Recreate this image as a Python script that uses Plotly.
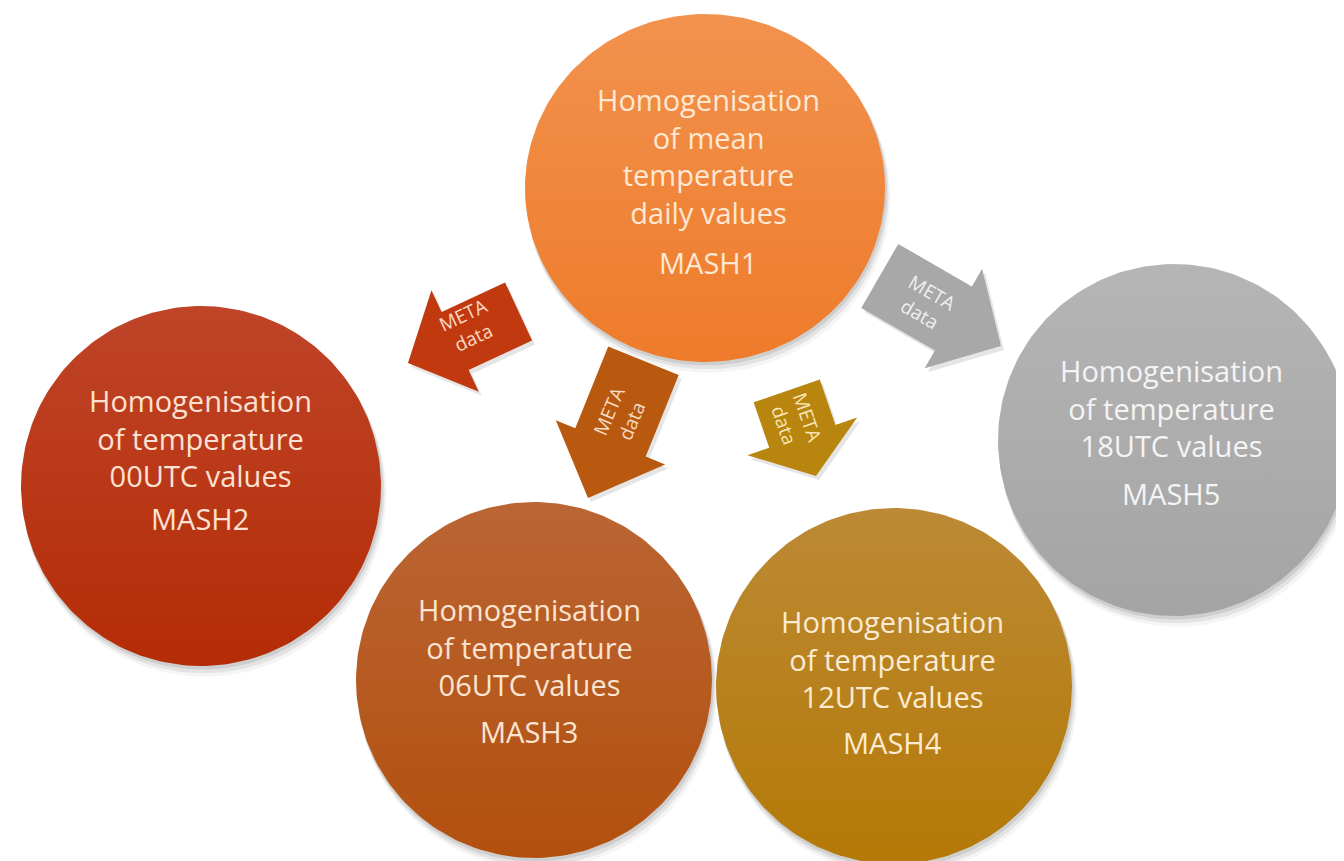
import numpy as np
import plotly.graph_objects as go

# ---- content ----
node_titles = [
    "Homogenisation<br>of mean<br>temperature<br>daily values",
    "Homogenisation<br>of temperature<br>00UTC values",
    "Homogenisation<br>of temperature<br>06UTC values",
    "Homogenisation<br>of temperature<br>12UTC values",
    "Homogenisation<br>of temperature<br>18UTC values",
]
node_ids = ["MASH1", "MASH2", "MASH3", "MASH4", "MASH5"]
arrow_label = "META<br>data"

# ---- styling / layout ----
node_top_colors = ["#F2924E", "#BF4428", "#BA6534", "#BC8A35", "#B5B5B5"]
node_bot_colors = ["#EE7B2A", "#B42C06", "#B2500E", "#B47906", "#A4A4A4"]
node_text_colors = ["#FDE8D4", "#FBE2D2", "#FBE4D2", "#FBEBD2", "#F4F4F4"]
node_centers = [(697, 180), (193, 478), (526, 672), (886, 678), (1166, 432)]
node_rx = [180, 180, 178, 178, 176]
node_ry = [174, 180, 178, 178, 176]
title_y = [148, 430, 639, 651, 400]
id_y = [254, 510, 723, 734, 485]
title_x = [700, 192, 521, 884, 1163]

arrow_colors = ["#C1390F", "#B9580F", "#B8850E", "#A8A8A8"]
arrow_text_colors = ["#F9D9C6", "#F6DCC4", "#F8E6B8", "#EFEFEF"]
arrow_tips = [(400, 355), (580, 490), (808, 468), (993, 338)]
arrow_angle = [155, 112, 71, 30]
arrow_len = [122, 148, 90, 140]
arrow_body_w = [64, 76, 70, 74]
arrow_head_w = [112, 118, 116, 115]
arrow_head_l = [52, 60, 42, 55]
arrow_text_pos = [(460, 318), (612, 408), (788, 413), (918, 295)]
arrow_text_angle = [-25, -67, 71, 30]

fig = go.Figure()

t = np.linspace(0, 2 * np.pi, 241)

# shadows
for (cx, cy), rx, ry in zip(node_centers, node_rx, node_ry):
    for off, op in [(9, 0.04), (6, 0.07), (3, 0.09)]:
        fig.add_trace(go.Scatter(
            x=cx + off * 0.4 + (rx + off * 0.2) * np.cos(t),
            y=cy + off + (ry + off * 0.2) * np.sin(t),
            mode="lines", fill="toself", line=dict(width=0),
            fillcolor=f"rgba(0,0,0,{op})", hoverinfo="skip", showlegend=False))

# circles
for i, ((cx, cy), rx, ry) in enumerate(zip(node_centers, node_rx, node_ry)):
    fig.add_trace(go.Scatter(
        x=cx + rx * np.cos(t), y=cy + ry * np.sin(t),
        mode="lines", fill="toself", line=dict(width=0),
        fillgradient=dict(type="vertical",
                          colorscale=[[0, node_bot_colors[i]], [1, node_top_colors[i]]]),
        hoverinfo="skip", showlegend=False))

# arrows
for i in range(4):
    tx, ty = arrow_tips[i]
    a = np.deg2rad(arrow_angle[i])
    d = np.array([np.cos(a), np.sin(a)])
    n = np.array([-np.sin(a), np.cos(a)])
    L, w, hw, hl = arrow_len[i], arrow_body_w[i], arrow_head_w[i], arrow_head_l[i]
    back = np.array([tx, ty]) - L * d
    local = [(0, -w / 2), (L - hl, -w / 2), (L - hl, -hw / 2), (L, 0),
             (L - hl, hw / 2), (L - hl, w / 2), (0, w / 2), (0, -w / 2)]
    pts = [back + u * d + v * n for u, v in local]
    xs = [p[0] for p in pts]
    ys = [p[1] for p in pts]
    fig.add_trace(go.Scatter(
        x=[x + 3 for x in xs], y=[y + 4 for y in ys], mode="lines", fill="toself",
        line=dict(width=0), fillcolor="rgba(0,0,0,0.10)", hoverinfo="skip", showlegend=False))
    fig.add_trace(go.Scatter(
        x=xs, y=ys, mode="lines", fill="toself", line=dict(width=0),
        fillcolor=arrow_colors[i], hoverinfo="skip", showlegend=False))
    fig.add_annotation(x=arrow_text_pos[i][0], y=arrow_text_pos[i][1], text=arrow_label,
                       showarrow=False, textangle=arrow_text_angle[i],
                       font=dict(family="Open Sans", size=19, color=arrow_text_colors[i]),
                       xanchor="center", yanchor="middle")

# node texts
for i in range(5):
    fig.add_annotation(x=title_x[i], y=title_y[i], text=node_titles[i], showarrow=False,
                       font=dict(family="Open Sans", size=29, color=node_text_colors[i]),
                       xanchor="center", yanchor="middle", align="center")
    fig.add_annotation(x=title_x[i], y=id_y[i], text=node_ids[i], showarrow=False,
                       font=dict(family="Open Sans", size=29, color=node_text_colors[i]),
                       xanchor="center", yanchor="middle")

fig.update_layout(
    width=1344, height=861, margin=dict(l=0, r=0, t=0, b=0),
    paper_bgcolor="white", plot_bgcolor="white", showlegend=False,
    xaxis=dict(range=[0, 1344], visible=False, fixedrange=True),
    yaxis=dict(range=[861, 0], visible=False, fixedrange=True),
)
fig.write_html("out.html")
